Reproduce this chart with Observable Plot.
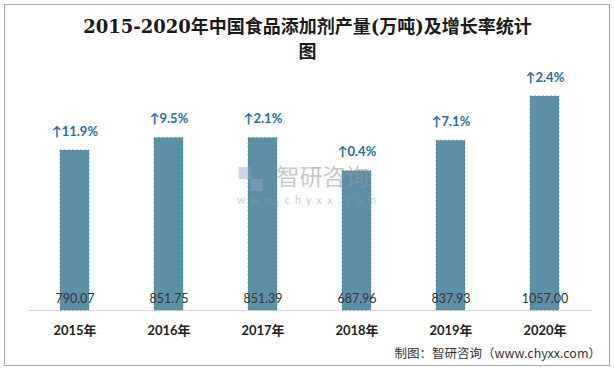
<!DOCTYPE html>
<html><head><meta charset="utf-8">
<script src="https://cdn.jsdelivr.net/npm/d3@7"></script>
<script src="https://cdn.jsdelivr.net/npm/@observablehq/plot@0.6"></script>
<style>
body{margin:0;background:#fff;}
#wrap{position:relative;width:615px;height:369px;overflow:hidden;}
#frame{position:absolute;left:4px;top:4px;width:604px;height:360px;border:1px solid #a6a6a6;}
#title{position:absolute;left:0;top:14px;width:615px;text-align:center;font-family:"DejaVu Serif","Noto Sans CJK SC",serif;font-size:18px;font-weight:bold;line-height:25px;color:#1a1a1a;}
#caption{position:absolute;right:14px;top:343px;font-family:"Noto Sans CJK SC",sans-serif;font-size:12.5px;color:#333;}
#chart{position:absolute;left:0;top:0;}
</style></head>
<body><div id="wrap"><div id="frame"></div>
<div id="title">2015-2020年中国食品添加剂产量(万吨)及增长率统计<br>图</div>
<div id="chart"></div>
<div id="caption">制图：智研咨询（www.chyxx.com）</div>
</div>
<script>
const years = ["2015年","2016年","2017年","2018年","2019年","2020年"];
const output = [790.07, 851.75, 851.39, 687.96, 837.93, 1057.00];
const growth = ["↑11.9%","↑9.5%","↑2.1%","↑0.4%","↑7.1%","↑2.4%"];

const data = years.map((y,i)=>({year:y, value:output[i], growth:growth[i]}));

const chart = Plot.plot({
  width: 615, height: 369,
  marginLeft: 28, marginRight: 23, marginTop: 67, marginBottom: 59,
  x: {domain: years, paddingInner: 0.69, paddingOuter: 0.345, label: null},
  y: {domain: [0, 1200], axis: null},
  style: {background: "transparent", fontFamily: "Lato, 'Noto Sans CJK SC', sans-serif"},
  marks: [
    Plot.ruleY([0], {stroke: "#d9d9d9", strokeWidth: 1}),
    Plot.barY(data, {x: "year", y: "value", fill: "#5b90a7", stroke: "#4a7f96", strokeDasharray: "2,2", strokeWidth: 0.6}),
    Plot.text(["智研咨询"], {frameAnchor: "middle", dx: 12, dy: -11, text: d=>d, fill: "#9a9a9a", fontSize: 23, fontFamily: "'Noto Sans CJK SC', sans-serif", opacity: 0.55}),
    Plot.text(["w  w  w  .  c  h  y  x  x  .  c  o  m"], {frameAnchor: "middle", dx: -4, dy: 12, text: d=>d, fill: "#9a9a9a", fontSize: 10.5, opacity: 0.5}),
    Plot.text(["▚"], {frameAnchor: "middle", dx: -60, dy: -9, text: d=>d, fill: "#8fa6cc", fontSize: 24, opacity: 0.45}),
    Plot.text(data, {x: "year", y: 0, text: d=>d.value.toFixed(2), dy: -12, fill: "#333", fontSize: 12.5}),
    Plot.text(data, {x: "year", y: "value", text: "growth", dy: -19, fill: "#1f6ea3", fontSize: 13, fontWeight: "bold"}),
    Plot.axisX({tickSize: 0, tickPadding: 15, fontSize: 13, fontWeight: "bold", fill: "#222", label: null})
  ]
});
document.getElementById("chart").appendChild(chart);
</script>
</body></html>
